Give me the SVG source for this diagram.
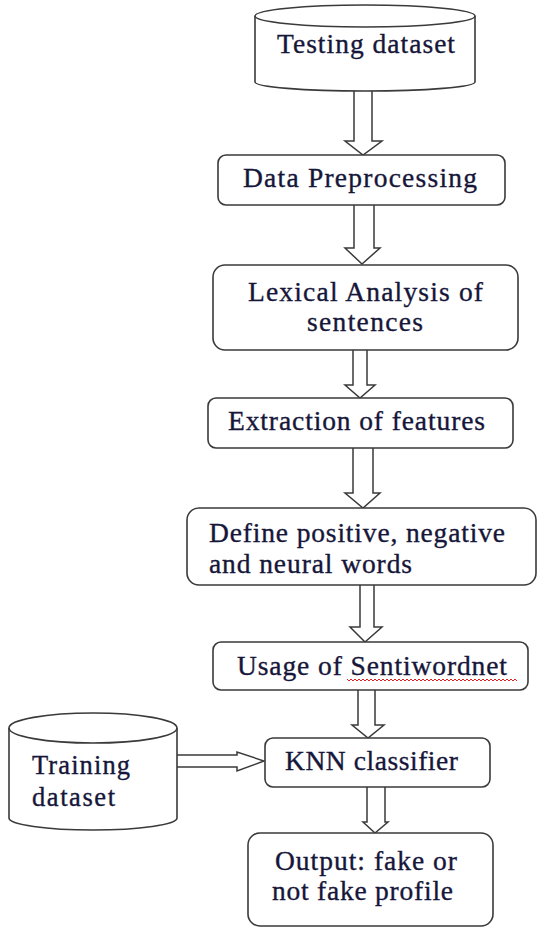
<svg xmlns="http://www.w3.org/2000/svg" width="539" height="928" viewBox="0 0 539 928">
<style>
.box{fill:#fff;stroke:#3a3a3a;stroke-width:1.6}
.arr{fill:#fff;stroke:#3a3a3a;stroke-width:1.5;stroke-linejoin:miter}
.t{font-family:"Liberation Serif","Times New Roman",serif;font-size:27.5px;fill:#16163a;stroke:#16163a;stroke-width:0.35}
.s{font-size:26.5px}
.sq{fill:none;stroke:#e02020;stroke-width:1}
</style>
<rect x="0" y="0" width="539" height="928" fill="#fff"/>
<g id="connectors">
<path class="arr" d="M354,88 L354,141 L345,141 L363,155 L382,141 L372,141 L372,88"/>
<path class="arr" d="M354,205 L354,248 L345,248 L362,264 L380,248 L374,248 L374,205"/>
<path class="arr" d="M353,350 L353,385 L345,385 L360,398 L375,385 L367,385 L367,350"/>
<path class="arr" d="M353,448 L353,493 L345,493 L363,508 L380,493 L373,493 L373,448"/>
<path class="arr" d="M360,585 L360,627 L350,627 L365,642 L382,627 L374,627 L374,585"/>
<path class="arr" d="M358,690 L358,725 L352,725 L368,738 L384,725 L375,725 L375,690"/>
<path class="arr" d="M367,787 L367,822 L363,822 L375,833 L388,822 L385,822 L385,787"/>
<path class="arr" d="M177,755 L237,755 L237,752 L264,761 L237,771 L237,767 L177,767"/>
</g>
<g id="testing-dataset">
<path class="box" d="M255,16 A110,11 0 0 1 475,16 L475,82 A110,9 0 0 1 255,82 Z"/>
<path class="box" d="M255,16 A110,11 0 0 0 475,16" fill="none"/>
<text class="t" x="277" y="53" textLength="178" lengthAdjust="spacing">Testing dataset</text>
</g>
<g id="data-preprocessing">
<rect class="box" x="218" y="155" width="287" height="50" rx="8"/>
<text class="t" x="243" y="187" textLength="234" lengthAdjust="spacing">Data Preprocessing</text>
</g>
<g id="lexical-analysis">
<rect class="box" x="213" y="265" width="305" height="85" rx="12"/>
<text class="t" x="248" y="301" textLength="235" lengthAdjust="spacing">Lexical Analysis of</text>
<text class="t" x="307" y="331" textLength="116" lengthAdjust="spacing">sentences</text>
</g>
<g id="extraction-features">
<rect class="box" x="208" y="398" width="305" height="50" rx="8"/>
<text class="t" x="228" y="430" textLength="257" lengthAdjust="spacing">Extraction of features</text>
</g>
<g id="define-words">
<rect class="box" x="187" y="508" width="349" height="77" rx="12"/>
<text class="t" x="209" y="542" textLength="296" lengthAdjust="spacing">Define positive, negative</text>
<text class="t" x="209" y="573" textLength="203" lengthAdjust="spacing">and neural words</text>
</g>
<g id="sentiwordnet">
<rect class="box" x="213" y="642" width="315" height="48" rx="8"/>
<text class="t" x="237" y="675" textLength="270" lengthAdjust="spacing">Usage of Sentiwordnet</text>
<path class="sq" d="M347,679 l2,2 l2,-2 l2,2 l2,-2 l2,2 l2,-2 l2,2 l2,-2 l2,2 l2,-2 l2,2 l2,-2 l2,2 l2,-2 l2,2 l2,-2 l2,2 l2,-2 l2,2 l2,-2 l2,2 l2,-2 l2,2 l2,-2 l2,2 l2,-2 l2,2 l2,-2 l2,2 l2,-2 l2,2 l2,-2 l2,2 l2,-2 l2,2 l2,-2 l2,2 l2,-2 l2,2 l2,-2 l2,2 l2,-2 l2,2 l2,-2 l2,2 l2,-2 l2,2 l2,-2 l2,2 l2,-2 l2,2 l2,-2 l2,2 l2,-2 l2,2 l2,-2 l2,2 l2,-2 l2,2 l2,-2 l2,2 l2,-2 l2,2 l2,-2 l2,2 l2,-2 l2,2 l2,-2 l2,2 l2,-2 l2,2 l2,-2 l2,2 l2,-2 l2,2 l2,-2 l2,2 l2,-2 l2,2 l2,-2 l2,2 l2,-2 l2,2 l2,-2 l2,2"/>
</g>
<g id="training-dataset">
<path class="box" d="M9,728 A84,15 0 0 1 177,728 L177,818 A84,12 0 0 1 9,818 Z"/>
<path class="box" d="M9,728 A84,15 0 0 0 177,728" fill="none"/>
<text class="t s" x="32" y="774" textLength="98" lengthAdjust="spacing">Training</text>
<text class="t s" x="32" y="806" textLength="83" lengthAdjust="spacing">dataset</text>
</g>
<g id="knn-classifier">
<rect class="box" x="265" y="738" width="225" height="49" rx="8"/>
<text class="t" x="285" y="770" textLength="173" lengthAdjust="spacing">KNN classifier</text>
</g>
<g id="output">
<rect class="box" x="248" y="833" width="245" height="93" rx="12"/>
<text class="t" x="275" y="870" textLength="182" lengthAdjust="spacing">Output: fake or</text>
<text class="t" x="272" y="900" textLength="181" lengthAdjust="spacing">not fake profile</text>
</g>
</svg>
